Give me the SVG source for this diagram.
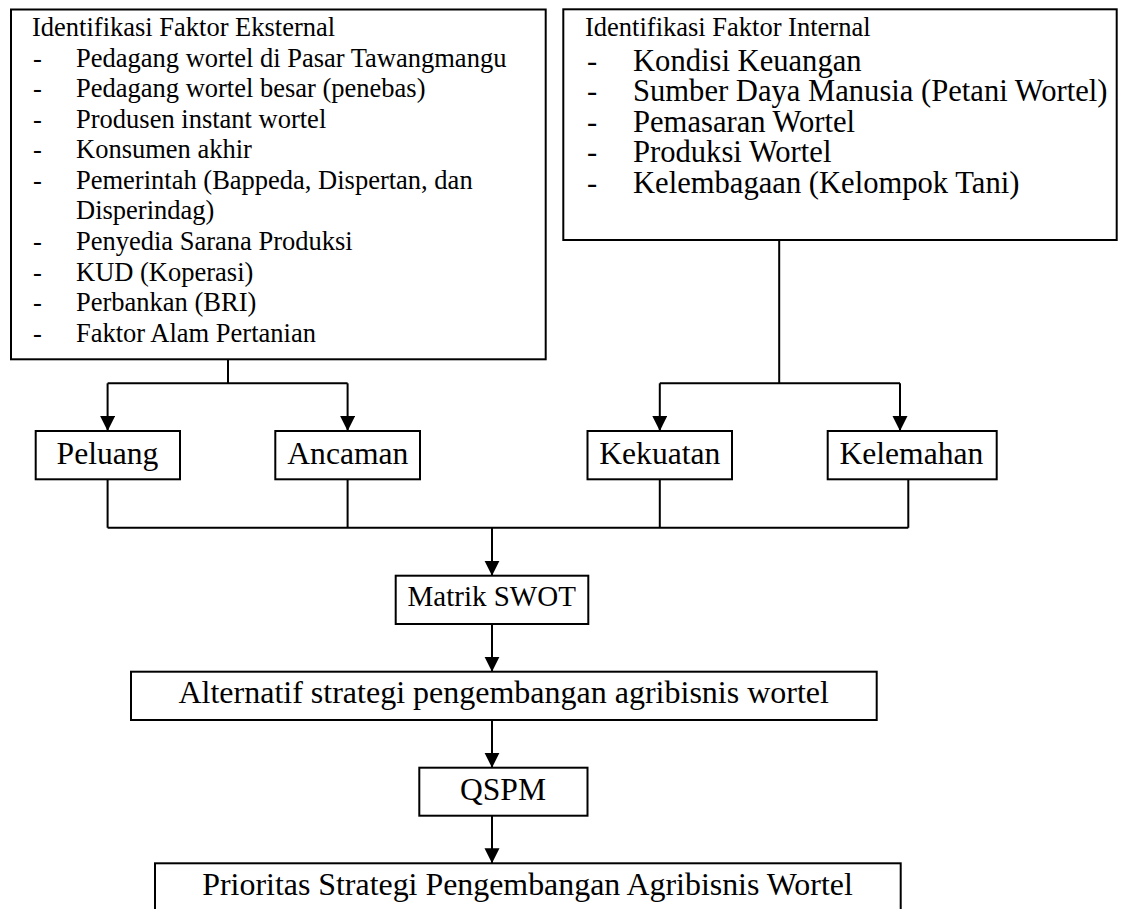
<svg xmlns="http://www.w3.org/2000/svg" width="1123" height="909" viewBox="0 0 1123 909">
<defs>
<marker id="arr" markerUnits="userSpaceOnUse" markerWidth="16" markerHeight="16" refX="15" refY="7.5" orient="auto">
<path d="M0,0 L15,7.5 L0,15 z" fill="#000"/>
</marker>
<style>
.box{fill:#fff;stroke:#000;stroke-width:2}
.t{font-family:"Liberation Serif","Times New Roman",serif;fill:#000}
.s{font-size:26.5px}
.b{font-size:30.6px}
.m{font-size:31.6px;text-anchor:middle}
.ln{fill:none;stroke:#000;stroke-width:2}
.ar{fill:none;stroke:#000;stroke-width:2;marker-end:url(#arr)}
</style>
</defs>
<rect width="1123" height="909" fill="#fff"/>
<g id="connectors">
<path class="ln" d="M228 359 V383.3 M107.6 383.3 H347.6"/>
<path class="ar" d="M107.6 383.3 V431"/>
<path class="ar" d="M347.6 383.3 V431"/>
<path class="ln" d="M779.2 240 V383.3 M659.8 383.3 H900"/>
<path class="ar" d="M659.8 383.3 V431"/>
<path class="ar" d="M900 383.3 V431"/>
<path class="ln" d="M107.6 479.3 V527.7 M347.6 479.3 V527.7 M659.8 479.3 V527.7 M908.3 479.3 V527.7 M107.6 527.7 H908.3"/>
<path class="ar" d="M492 527.7 V575.7"/>
<path class="ar" d="M492 624 V671.7"/>
<path class="ar" d="M492 720 V767.7"/>
<path class="ar" d="M492 815.7 V863.3"/>
</g>
<g id="eksternal">
<rect class="box" x="11" y="9.5" width="534.7" height="349.8"/>
<text class="t s" x="32" y="36">Identifikasi Faktor Eksternal</text>
<g class="t s">
<text x="33" y="66.6">-</text><text x="76" y="66.6">Pedagang wortel di Pasar Tawangmangu</text>
<text x="33" y="97.1">-</text><text x="76" y="97.1">Pedagang wortel besar (penebas)</text>
<text x="33" y="127.7">-</text><text x="76" y="127.7">Produsen instant wortel</text>
<text x="33" y="158.3">-</text><text x="76" y="158.3">Konsumen akhir</text>
<text x="33" y="188.9">-</text><text x="76" y="188.9">Pemerintah (Bappeda, Dispertan, dan</text>
<text x="76" y="219.4">Disperindag)</text>
<text x="33" y="250">-</text><text x="76" y="250">Penyedia Sarana Produksi</text>
<text x="33" y="280.6">-</text><text x="76" y="280.6">KUD (Koperasi)</text>
<text x="33" y="311.1">-</text><text x="76" y="311.1">Perbankan (BRI)</text>
<text x="33" y="341.7">-</text><text x="76" y="341.7">Faktor Alam Pertanian</text>
</g>
</g>
<g id="internal">
<rect class="box" x="563.3" y="9.3" width="553.4" height="230.7"/>
<text class="t s" x="585" y="36">Identifikasi Faktor Internal</text>
<g class="t b">
<text x="587" y="70.5">-</text><text x="633" y="70.5">Kondisi Keuangan</text>
<text x="587" y="101">-</text><text x="633" y="101">Sumber Daya Manusia (Petani Wortel)</text>
<text x="587" y="131.5">-</text><text x="633" y="131.5">Pemasaran Wortel</text>
<text x="587" y="162">-</text><text x="633" y="162">Produksi Wortel</text>
<text x="587" y="192.5">-</text><text x="633" y="192.5">Kelembagaan (Kelompok Tani)</text>
</g>
</g>
<g id="peluang">
<rect class="box" x="35.7" y="431" width="144.3" height="48.3"/>
<text class="t m" x="107.5" y="464">Peluang</text>
</g>
<g id="ancaman">
<rect class="box" x="275.3" y="431" width="144.7" height="48.3"/>
<text class="t m" x="347.8" y="464">Ancaman</text>
</g>
<g id="kekuatan">
<rect class="box" x="587.5" y="431" width="144.5" height="48.3"/>
<text class="t m" x="659.8" y="464">Kekuatan</text>
</g>
<g id="kelemahan">
<rect class="box" x="827.7" y="431" width="169" height="48.3"/>
<text class="t m" x="911.4" y="464">Kelemahan</text>
</g>
<g id="matrik">
<rect class="box" x="395.7" y="575.7" width="192.6" height="48.3"/>
<text class="t m" x="491.7" y="605.7" style="font-size:29px">Matrik SWOT</text>
</g>
<g id="alternatif">
<rect class="box" x="131" y="671.7" width="745.7" height="48.3"/>
<text class="t m" x="503.7" y="703.3" style="font-size:32px">Alternatif strategi pengembangan agribisnis wortel</text>
</g>
<g id="qspm">
<rect class="box" x="419.3" y="767.7" width="168.2" height="48"/>
<text class="t m" x="503" y="800">QSPM</text>
</g>
<g id="prioritas">
<rect class="box" x="155" y="863.3" width="745.7" height="70"/>
<text class="t m" x="527.5" y="895" style="font-size:31.9px">Prioritas Strategi Pengembangan Agribisnis Wortel</text>
</g>
</svg>
